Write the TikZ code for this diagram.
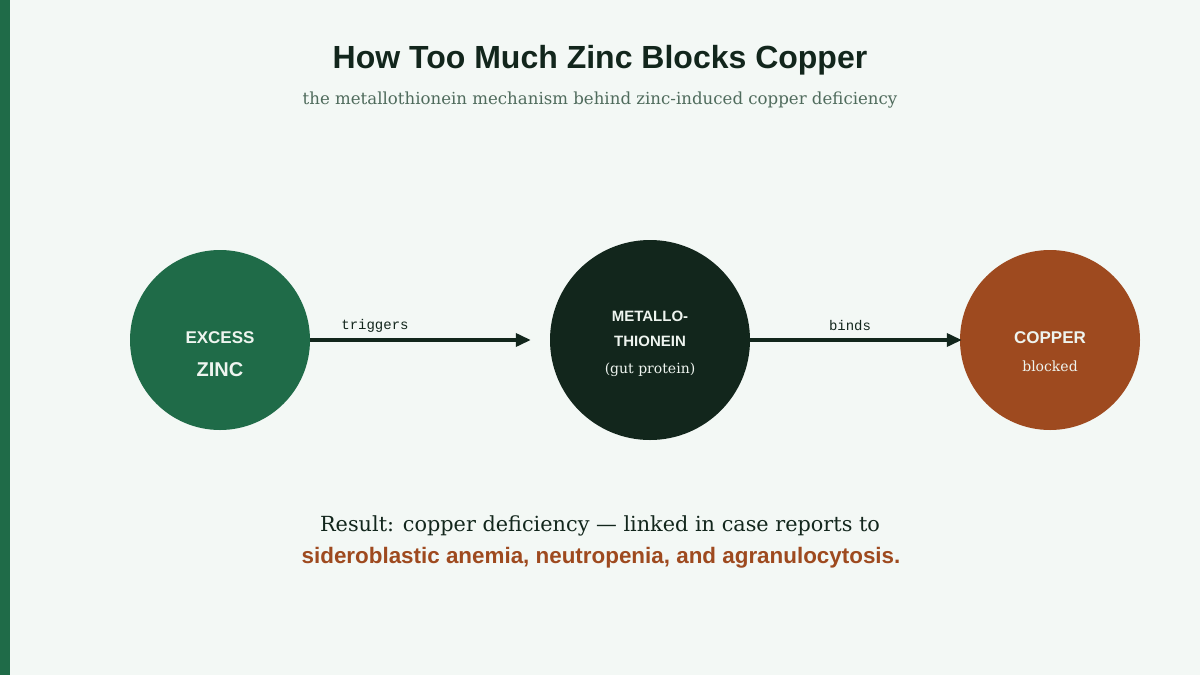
\documentclass[tikz,border=0pt]{standalone}
\usepackage{fontspec}
\setmainfont{DejaVu Serif}
\setsansfont{Liberation Sans}
\setmonofont{Liberation Mono}
\usetikzlibrary{arrows.meta}
\definecolor{bg}{HTML}{F3F8F5}
\definecolor{zincgreen}{HTML}{1F6B48}
\definecolor{darkg}{HTML}{12261C}
\definecolor{copperc}{HTML}{9E4A1F}
\definecolor{subc}{HTML}{4F6B5C}
\definecolor{lighttxt}{HTML}{EEF4EF}
\tikzset{
  circ/.style={circle, inner sep=0pt, text=lighttxt, align=center},
  flow/.style={draw=darkg, line width=3.5pt, -{Triangle[length=15pt,width=13pt]}},
  lbl/.style={font=\ttfamily\fontsize{14}{16}\selectfont, text=darkg, inner sep=0pt},
}
\begin{document}
\begin{tikzpicture}[x=1pt,y=-1pt]
\fill[bg] (0,0) rectangle (1200,675);
\useasboundingbox (0,0) rectangle (1200,675);
\fill[zincgreen] (0,0) rectangle (10,675);
\node[font=\sffamily\bfseries\fontsize{32}{36}\selectfont, text=darkg] (title) at (600,60) {How Too Much Zinc Blocks Copper};
\node[font=\fontsize{16.6}{19}\selectfont, text=subc] (sub) at (600,100) {the metallothionein mechanism behind zinc-induced copper deficiency};
\node[circ, fill=zincgreen, minimum size=180pt] (zinc) at (220,340) {};
\node[circ, fill=darkg, minimum size=200pt] (mt) at (650,340) {};
\node[circ, fill=copperc, minimum size=180pt] (cu) at (1050,340) {};
\node[text=lighttxt, font=\sffamily\bfseries\fontsize{17}{20}\selectfont] (t1) at (220,338) {EXCESS};
\node[text=lighttxt, font=\sffamily\bfseries\fontsize{20}{24}\selectfont] (t2) at (220,370) {ZINC};
\node[text=lighttxt, font=\sffamily\bfseries\fontsize{15}{18}\selectfont] (t3) at (650,316) {METALLO-};
\node[text=lighttxt, font=\sffamily\bfseries\fontsize{15}{18}\selectfont] (t4) at (650,341) {THIONEIN};
\node[text=lighttxt, font=\fontsize{14}{16}\selectfont] (t5) at (650,370) {(gut protein)};
\node[text=lighttxt, font=\fontsize{14}{16}\selectfont] (t7) at (1050,366) {blocked};
\node[text=lighttxt, font=\sffamily\bfseries\fontsize{17}{20}\selectfont] (t6) at (1050,338) {COPPER};
\draw[flow, shorten >=19pt] (zinc.east) -- (mt.west);
\draw[flow, shorten >=-2pt] (mt.east) -- (cu.west);
\node[lbl] (l1) at (375,326) {triggers};
\node[lbl] (l2) at (850,326) {binds};
\node[font=\fontsize{20.8}{24}\selectfont, text=darkg] (r1) at (600,526) {Result: copper deficiency — linked in case reports to};
\node[font=\sffamily\bfseries\fontsize{22.4}{26}\selectfont, text=copperc] (r2) at (601,558) {sideroblastic anemia, neutropenia, and agranulocytosis.};
\end{tikzpicture}
\end{document}
